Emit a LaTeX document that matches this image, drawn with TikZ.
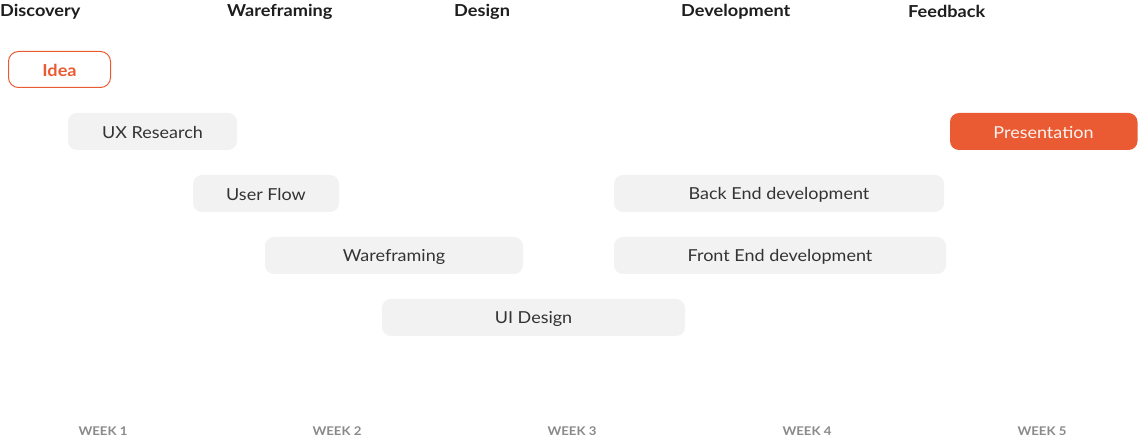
\documentclass[tikz,border=0pt]{standalone}
\usepackage{fontspec}
\setmainfont{Lato}
\newfontfamily\widefont[FakeStretch=1.09]{Lato}
\newfontfamily\headfont[FakeStretch=1.1]{Lato}
\definecolor{orange}{HTML}{EA5B33}
\definecolor{boxgray}{HTML}{F2F2F2}
\definecolor{txt}{HTML}{333333}
\definecolor{head}{HTML}{1E1E1E}
\definecolor{week}{HTML}{8A8A8A}
\begin{document}
\begin{tikzpicture}[x=1pt,y=-1pt,
  tasktext/.style={text=txt,font=\widefont\fontsize{16.5}{18}\selectfont},
  head/.style={anchor=west,text=head,font=\headfont\fontsize{16.5}{18}\selectfont\bfseries,inner sep=0pt},
  wk/.style={text=week,font=\headfont\fontsize{12}{13}\selectfont\bfseries,inner sep=0pt}]
\useasboundingbox (0,0) rectangle (1138,443);
\fill[white] (0,0) rectangle (1138,443);
% headers
\node[head] (h1) at (0,11.5) {Discovery};
\node[head] (h2) at (227,11.5) {Wareframing};
\node[head] (h3) at (454,11.5) {Design};
\node[head] (h4) at (681,11.5) {Development};
\node[head] (h5) at (908,11.5) {Feedback};
% idea
\draw[orange,fill=white,line width=1pt,rounded corners=10pt] (8.5,51.5) rectangle (110.5,87.5);
\node[text=orange,font=\headfont\fontsize{16.5}{18}\selectfont\bfseries] (idea) at (59.5,70.5) {Idea};
% gray tasks
\fill[boxgray,rounded corners=9pt] (68,113) rectangle (237,150);
\node[tasktext] (ux) at (152.5,132.5) {UX Research};
\fill[boxgray,rounded corners=9pt] (193,175) rectangle (339,212);
\node[tasktext] (uf) at (266,194.5) {User Flow};
\fill[boxgray,rounded corners=9pt] (614,175) rectangle (944,212);
\node[tasktext] (be) at (779,194.5) {Back End development};
\fill[boxgray,rounded corners=9pt] (265,237) rectangle (523,274);
\node[tasktext] (wf) at (394,256.5) {Wareframing};
\fill[boxgray,rounded corners=9pt] (614,237) rectangle (946,274);
\node[tasktext] (fe) at (780,256.5) {Front End development};
\fill[boxgray,rounded corners=9pt] (382,299) rectangle (685,336);
\node[tasktext] (ui) at (533.5,318.5) {UI Design};
% presentation
\fill[orange,rounded corners=9pt] (950,113) rectangle (1137.5,150);
\node[tasktext,text=white!92!orange] (pr) at (1043.5,132.5) {Presentation};
% weeks
\node[wk] (w1) at (103,431.5) {WEEK 1};
\node[wk] (w2) at (337,431.5) {WEEK 2};
\node[wk] (w3) at (572,431.5) {WEEK 3};
\node[wk] (w4) at (807,431.5) {WEEK 4};
\node[wk] (w5) at (1042,431.5) {WEEK 5};
\end{tikzpicture}
\end{document}
